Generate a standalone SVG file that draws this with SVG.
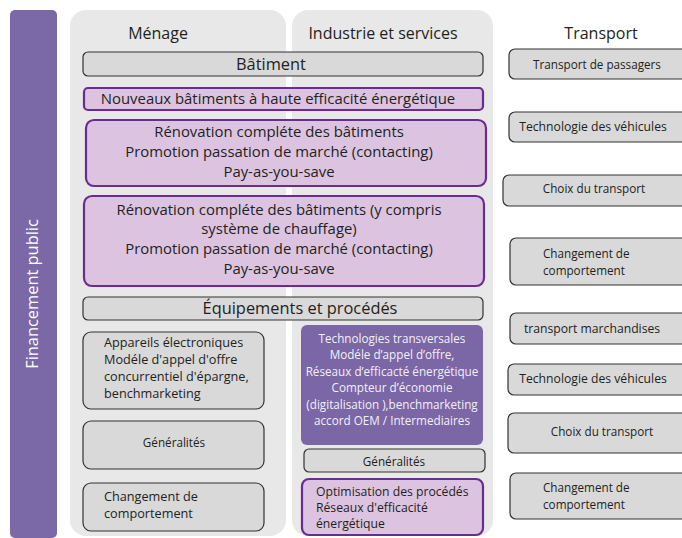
<svg xmlns="http://www.w3.org/2000/svg" width="682" height="538" viewBox="0 0 682 538">
<style>
text{font-family:"Open Sans","Liberation Sans",sans-serif;fill:#231f20}
.panel{fill:#e8e8e8}
.gray{fill:#d9d9d9;stroke:#333;stroke-width:1.2}
.lp{fill:#dcc4e0;stroke:#6a2c90;stroke-width:2.2}
.dp{fill:#7b66a6}
.hd{font-size:16px;text-anchor:middle}
.c{text-anchor:middle}
.s15{font-size:14.9px}
.s16{font-size:16.4px}
.s13{font-size:12.7px}
.s12{font-size:11.7px}
.t12{font-size:12.2px}
.w{fill:#f2f0f6}
</style>
<rect width="682" height="538" fill="#fff"/>
<g id="financement">
<rect x="10" y="10" width="47" height="528" rx="5" fill="#7b68a7"/>
<text transform="translate(38,294) rotate(-90)" class="c" style="font-size:16.4px;fill:#fff">Financement  public</text>
</g>
<g id="panel-menage"><rect class="panel" x="70" y="10" width="216" height="526" rx="16"/><text class="hd" x="158" y="39">Ménage</text></g>
<g id="panel-industrie"><rect class="panel" x="292" y="10" width="201" height="526" rx="16"/><text class="hd" x="383" y="39">Industrie et services</text></g>
<g id="head-transport"><text class="hd" x="601" y="39">Transport</text></g>
<g id="batiment"><rect class="gray" x="83" y="52" width="400" height="24" rx="5"/><text class="c s16" x="271" y="70">Bâtiment</text></g>
<g id="nouveaux"><rect class="lp" x="84" y="88" width="399" height="22" rx="4"/><text class="c s15" x="278" y="104">Nouveaux bâtiments à haute efficacité énergétique</text></g>
<g id="renovation1"><rect class="lp" x="86" y="120" width="400" height="66" rx="8"/>
<text class="c s15" x="279" y="137">Rénovation compléte des bâtiments</text>
<text class="c s15" x="279" y="157">Promotion passation de marché (contacting)</text>
<text class="c s15" x="279" y="177">Pay-as-you-save</text></g>
<g id="renovation2"><rect class="lp" x="84" y="196" width="400" height="90" rx="8"/>
<text class="c s15" x="279" y="215">Rénovation compléte des bâtiments (y compris</text>
<text class="c s15" x="279" y="234">système de chauffage)</text>
<text class="c s15" x="279" y="254">Promotion passation de marché (contacting)</text>
<text class="c s15" x="279" y="274">Pay-as-you-save</text></g>
<g id="equipements"><rect class="gray" x="83" y="297" width="400" height="23" rx="5"/><text class="c s16" x="300" y="314">Équipements et procédés</text></g>
<g id="appareils"><rect class="gray" x="83" y="332" width="181" height="77" rx="8"/>
<text class="s13" x="104" y="347">Appareils électroniques</text>
<text class="s13" x="104" y="364">Modéle d'appel d'offre</text>
<text class="s13" x="104" y="381">concurrentiel d'épargne,</text>
<text class="s13" x="104" y="398">benchmarketing</text></g>
<g id="generalites-m"><rect class="gray" x="83" y="421" width="181" height="48" rx="8"/><text class="c s12" x="174" y="447">Généralités</text></g>
<g id="changement-m"><rect class="gray" x="83" y="483" width="181" height="48" rx="8"/>
<text class="s13" x="104" y="501">Changement de</text>
<text class="s13" x="104" y="518">comportement</text></g>
<g id="technologies"><rect class="dp" x="301" y="325" width="182" height="120" rx="6"/>
<text class="c s12 w" x="392" y="343">Technologies transversales</text>
<text class="c s12 w" x="392" y="359">Modéle d’appel d’offre,</text>
<text class="c s12 w" x="392" y="376">Réseaux d’efficacté énergétique</text>
<text class="c s12 w" x="392" y="392">Compteur d’économie</text>
<text class="c s12 w" x="392" y="409">(digitalisation ),benchmarketing</text>
<text class="c s12 w" x="392" y="425">accord OEM / Intermediaires</text></g>
<g id="generalites-i"><rect class="gray" x="304" y="449" width="181" height="23" rx="5"/><text class="c s12" x="394" y="466">Généralités</text></g>
<g id="optimisation"><rect class="lp" x="302" y="479" width="181" height="56" rx="7"/>
<text class="t12" x="316" y="496">Optimisation des procédés</text>
<text class="t12" x="316" y="512">Réseaux d'efficacité</text>
<text class="t12" x="316" y="528">énergétique</text></g>
<g id="t-passagers"><rect class="gray" x="509" y="49" width="185" height="30" rx="6"/><text class="c s12" x="597" y="69">Transport de passagers</text></g>
<g id="t-vehicules1"><rect class="gray" x="509" y="112" width="185" height="30" rx="6"/><text class="c t12" x="593" y="131">Technologie des véhicules</text></g>
<g id="t-choix1"><rect class="gray" x="503" y="175" width="190" height="31" rx="6"/><text class="c s12" x="594" y="193">Choix du transport</text></g>
<g id="t-changement1"><rect class="gray" x="510" y="238" width="185" height="47" rx="6"/>
<text class="s12" x="543" y="258">Changement de</text>
<text class="s12" x="543" y="275">comportement</text></g>
<g id="t-marchandises"><rect class="gray" x="510" y="313" width="185" height="31" rx="6"/><text class="c t12" x="592" y="333">transport marchandises</text></g>
<g id="t-vehicules2"><rect class="gray" x="508" y="364" width="185" height="31" rx="6"/><text class="c t12" x="593" y="383">Technologie des véhicules</text></g>
<g id="t-choix2"><rect class="gray" x="508" y="413" width="185" height="40" rx="6"/><text class="c s12" x="602" y="436">Choix du transport</text></g>
<g id="t-changement2"><rect class="gray" x="510" y="473" width="185" height="46" rx="6"/>
<text class="s12" x="543" y="492">Changement de</text>
<text class="s12" x="543" y="509">comportement</text></g>
<g id="connectors"></g>
</svg>
